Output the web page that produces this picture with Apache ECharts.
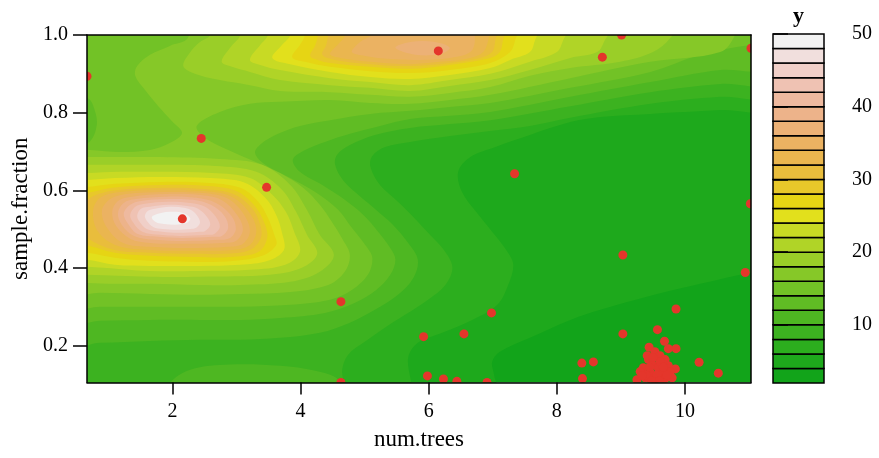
<!DOCTYPE html>
<html><head><meta charset="utf-8">
<script src="https://cdn.jsdelivr.net/npm/echarts@6/dist/echarts.min.js"></script>
<style>html,body{margin:0;padding:0;background:#fff}#c{width:879px;height:458px}</style>
</head><body><div id="c"></div>
<script>
// ---- data: filled contour regions {z >= level}, vertices in (num.trees, sample.fraction) ----
const contourLevels = [2,4,6,8,10,10,12,14,16,
  18,20,22,24,26,28,30,32,34,36,
  18,20,22,24,26,28,30,32,34,36,38,40,42,44,46,48];
const contourRings = [
 [[0.25,1.064],[11.49,1.064],[11.49,0.062],[0.25,0.062]],
 [[0.25,1.064],[11.49,1.064],[11.49,0.393],[11.02,0.388],[10.24,0.360],[9.46,0.329],[8.68,0.293],[8.21,0.267],[7.58,0.221],[7.11,0.185],[6.99,0.159],[7.02,0.126],[7.07,0.062],[0.25,0.062]],
 [[0.25,1.064],[11.49,1.064],[11.49,0.815],[10.55,0.807],[9.46,0.797],[8.68,0.789],[8.21,0.776],[7.58,0.743],[7.04,0.712],[6.65,0.686],[6.46,0.648],[6.52,0.596],[6.74,0.545],[6.99,0.494],[7.21,0.447],[7.32,0.409],[7.24,0.357],[7.07,0.306],[6.68,0.267],[6.21,0.234],[5.83,0.208],[5.68,0.170],[5.66,0.062],[0.25,0.062]],
 [[0.25,1.064],[11.49,1.064],[11.49,0.846],[10.55,0.841],[9.46,0.823],[8.21,0.787],[7.58,0.766],[6.96,0.753],[6.33,0.740],[5.71,0.725],[5.32,0.712],[5.12,0.689],[5.09,0.661],[5.24,0.614],[5.52,0.571],[5.76,0.532],[6.02,0.486],[6.26,0.442],[6.37,0.401],[6.26,0.357],[5.99,0.319],[5.63,0.280],[5.27,0.242],[4.98,0.208],[4.74,0.177],[4.65,0.139],[4.65,0.062],[0.25,0.062]],
 [[0.25,1.064],[11.49,1.064],[11.49,0.879],[10.55,0.874],[9.46,0.853],[8.21,0.817],[6.96,0.781],[6.33,0.771],[5.71,0.761],[5.16,0.743],[4.77,0.717],[4.57,0.692],[4.54,0.666],[4.66,0.627],[4.90,0.589],[5.18,0.550],[5.44,0.512],[5.68,0.465],[5.83,0.422],[5.76,0.375],[5.52,0.332],[5.16,0.293],[4.77,0.260],[4.30,0.234],[3.68,0.221],[3.06,0.216],[2.43,0.216],[1.65,0.213],[0.87,0.208],[0.25,0.203]],
 [[1.88,0.062],[1.96,0.105],[2.28,0.139],[2.90,0.152],[3.68,0.149],[4.23,0.136],[4.59,0.113],[4.69,0.062]],
 [[0.25,1.064],[11.49,1.064],[11.49,0.915],[10.55,0.910],[9.46,0.879],[8.21,0.841],[6.96,0.802],[6.33,0.792],[5.71,0.784],[5.24,0.766],[4.77,0.746],[4.38,0.725],[4.07,0.704],[3.88,0.679],[3.99,0.648],[4.34,0.614],[4.69,0.576],[4.98,0.537],[5.21,0.494],[5.40,0.452],[5.48,0.422],[5.40,0.383],[5.18,0.344],[4.85,0.311],[4.38,0.285],[3.68,0.272],[3.06,0.267],[2.43,0.267],[1.65,0.267],[0.87,0.265],[0.25,0.262]],
 [[0.25,1.064],[11.49,1.064],[11.49,0.974],[11.03,0.974],[10.24,0.949],[9.46,0.905],[8.21,0.864],[6.96,0.825],[6.33,0.815],[5.71,0.805],[5.09,0.797],[4.46,0.781],[3.99,0.766],[3.65,0.746],[3.40,0.722],[3.29,0.697],[3.45,0.666],[3.84,0.632],[4.23,0.596],[4.59,0.550],[4.80,0.504],[5.01,0.460],[5.12,0.427],[5.05,0.383],[4.80,0.344],[4.46,0.319],[3.84,0.306],[3.06,0.301],[2.43,0.301],[1.65,0.301],[0.87,0.301],[0.25,0.301],[0.25,0.717],[0.68,0.722],[0.82,0.769],[0.76,0.820],[0.67,0.838],[0.25,0.841]],
 [[2.32,1.064],[10.86,1.064],[10.78,1.0],[10.55,0.956],[9.46,0.931],[8.21,0.889],[6.96,0.846],[6.33,0.833],[5.71,0.823],[5.09,0.825],[4.46,0.833],[3.68,0.828],[3.21,0.823],[2.74,0.802],[2.38,0.766],[2.51,0.735],[2.87,0.704],[3.29,0.674],[3.68,0.645],[4.04,0.607],[4.30,0.563],[4.49,0.519],[4.66,0.473],[4.77,0.434],[4.69,0.391],[4.43,0.357],[3.84,0.339],[3.06,0.334],[2.43,0.332],[1.65,0.334],[0.87,0.337],[0.25,0.337],[0.25,0.710],[0.71,0.704],[1.18,0.699],[1.65,0.704],[1.96,0.722],[2.15,0.748],[1.99,0.779],[1.78,0.817],[1.57,0.859],[1.42,0.895],[1.45,0.920],[1.65,0.949],[1.96,0.972],[2.24,0.992]],
 // upper peak
 [[2.17,0.920],[2.28,0.956],[2.43,0.982],[2.59,1.0],[2.62,1.064],[10.00,1.064],[9.77,0.992],[9.50,0.956],[8.99,0.931],[8.21,0.915],[7.58,0.895],[6.96,0.866],[6.33,0.851],[5.71,0.841],[5.09,0.846],[4.46,0.853],[3.68,0.856],[3.21,0.871],[2.74,0.884],[2.35,0.900]],
 [[2.77,0.931],[2.90,0.967],[3.06,1.0],[3.09,1.064],[8.99,1.064],[8.75,0.987],[8.63,0.956],[8.21,0.941],[7.58,0.910],[6.96,0.884],[6.33,0.869],[5.71,0.856],[5.09,0.864],[4.46,0.871],[3.68,0.884],[3.21,0.905],[2.93,0.918]],
 [[3.21,0.936],[3.37,0.974],[3.49,1.0],[3.52,1.064],[8.29,1.064],[8.10,0.987],[8.00,0.956],[7.58,0.931],[6.96,0.900],[6.33,0.884],[5.71,0.871],[5.09,0.879],[4.46,0.889],[3.68,0.910],[3.37,0.923]],
 [[3.56,0.941],[3.71,0.974],[3.84,1.0],[3.87,1.064],[7.82,1.064],[7.66,0.987],[7.58,0.956],[7.27,0.936],[6.96,0.915],[6.33,0.897],[5.71,0.887],[5.09,0.892],[4.46,0.905],[3.84,0.925]],
 [[3.87,0.943],[3.99,0.974],[4.07,1.0],[4.10,1.064],[7.46,1.064],[7.35,0.987],[7.27,0.956],[6.96,0.928],[6.33,0.910],[5.71,0.902],[5.09,0.907],[4.46,0.918],[4.07,0.931]],
 [[4.15,0.946],[4.23,0.974],[4.27,1.0],[4.30,1.064],[7.27,1.064],[7.16,0.987],[7.11,0.956],[6.96,0.941],[6.33,0.923],[5.71,0.913],[5.09,0.918],[4.46,0.928],[4.27,0.936]],
 [[4.34,0.949],[4.40,0.974],[4.43,1.0],[4.46,1.064],[7.11,1.064],[7.04,0.987],[6.99,0.956],[6.80,0.941],[6.33,0.928],[5.71,0.920],[5.09,0.925],[4.54,0.936]],
 [[4.46,0.951],[4.59,0.977],[4.69,0.997],[4.77,1.064],[6.99,1.064],[6.93,0.987],[6.85,0.956],[6.65,0.941],[6.18,0.931],[5.71,0.925],[5.09,0.931],[4.62,0.941]],
 [[4.80,0.956],[4.93,0.982],[5.12,1.003],[5.16,1.064],[6.65,1.064],[6.72,0.987],[6.65,0.956],[6.33,0.941],[5.87,0.936],[5.40,0.938],[5.01,0.946]],
 [[5.48,0.967],[5.71,0.982],[6.10,0.982],[6.33,0.967],[6.18,0.951],[5.79,0.949]],
 // main peak
 [[1.81,0.686],[2.74,0.681],[3.40,0.666],[3.84,0.614],[4.10,0.550],[4.30,0.486],[4.52,0.434],[4.30,0.391],[3.84,0.365],[3.06,0.357],[2.43,0.357],[1.65,0.360],[1.10,0.360],[0.67,0.362],[0.25,0.362],[0.25,0.686],[0.67,0.686],[1.18,0.686]],
 [[1.81,0.666],[2.67,0.663],[3.31,0.648],[3.71,0.602],[3.93,0.545],[4.10,0.486],[4.26,0.437],[4.02,0.401],[3.52,0.383],[2.43,0.378],[1.65,0.378],[0.67,0.383],[0.25,0.383],[0.25,0.666],[0.67,0.666],[1.18,0.666]],
 [[1.81,0.648],[2.62,0.645],[3.21,0.632],[3.56,0.589],[3.77,0.545],[3.90,0.494],[3.99,0.442],[3.76,0.409],[3.21,0.396],[2.43,0.393],[1.65,0.393],[0.67,0.404],[0.25,0.404],[0.25,0.645],[0.67,0.645],[1.18,0.648]],
 [[1.81,0.635],[2.59,0.632],[3.13,0.620],[3.45,0.581],[3.62,0.537],[3.71,0.491],[3.74,0.447],[3.49,0.419],[3.06,0.409],[2.43,0.406],[1.65,0.406],[1.10,0.409],[0.67,0.422],[0.25,0.422],[0.25,0.627],[0.67,0.627],[1.10,0.632]],
 [[1.81,0.622],[2.51,0.620],[3.06,0.607],[3.34,0.571],[3.49,0.530],[3.59,0.486],[3.62,0.460],[3.40,0.432],[2.98,0.419],[2.43,0.416],[1.65,0.419],[1.10,0.427],[0.67,0.440],[0.25,0.440],[0.25,0.609],[0.67,0.609],[1.10,0.617]],
 [[1.84,0.614],[2.51,0.612],[2.99,0.599],[3.27,0.563],[3.43,0.519],[3.48,0.478],[3.34,0.442],[2.90,0.429],[2.34,0.429],[1.65,0.432],[1.10,0.440],[0.67,0.458],[0.25,0.458],[0.25,0.594],[0.67,0.594],[1.06,0.607]],
 [[1.84,0.607],[2.48,0.604],[2.95,0.591],[3.24,0.555],[3.37,0.512],[3.38,0.478],[3.21,0.447],[2.82,0.437],[2.31,0.437],[1.65,0.440],[1.10,0.447],[0.67,0.478],[0.40,0.524],[0.67,0.576],[1.06,0.599]],
 [[1.87,0.602],[2.43,0.599],[2.90,0.586],[3.18,0.548],[3.31,0.499],[3.21,0.460],[2.93,0.447],[2.28,0.445],[1.65,0.447],[1.14,0.458],[0.84,0.494],[0.76,0.545],[0.87,0.581],[1.18,0.596]],
 [[1.87,0.596],[2.43,0.594],[2.84,0.581],[3.10,0.542],[3.21,0.496],[3.10,0.463],[2.87,0.455],[2.24,0.452],[1.65,0.455],[1.23,0.465],[0.98,0.504],[0.90,0.548],[1.03,0.578],[1.28,0.591]],
 [[1.90,0.591],[2.40,0.589],[2.76,0.576],[3.01,0.537],[3.10,0.499],[2.99,0.470],[2.77,0.465],[2.21,0.463],[1.65,0.465],[1.34,0.476],[1.12,0.509],[1.06,0.545],[1.15,0.573],[1.37,0.584]],
 [[1.90,0.584],[2.37,0.581],[2.68,0.568],[2.92,0.535],[2.99,0.501],[2.90,0.478],[2.71,0.473],[2.18,0.470],[1.73,0.473],[1.40,0.483],[1.21,0.512],[1.15,0.542],[1.24,0.568],[1.43,0.578]],
 [[1.93,0.578],[2.32,0.576],[2.60,0.563],[2.81,0.535],[2.87,0.504],[2.77,0.483],[2.62,0.481],[2.15,0.478],[1.78,0.481],[1.46,0.488],[1.31,0.514],[1.24,0.540],[1.34,0.563],[1.51,0.573]],
 [[1.93,0.571],[2.28,0.568],[2.51,0.558],[2.68,0.532],[2.74,0.506],[2.65,0.488],[2.53,0.486],[2.12,0.483],[1.81,0.486],[1.53,0.494],[1.39,0.517],[1.34,0.537],[1.42,0.558],[1.57,0.566]],
 [[1.93,0.563],[2.23,0.560],[2.40,0.553],[2.54,0.532],[2.59,0.512],[2.51,0.496],[2.42,0.494],[2.09,0.491],[1.84,0.494],[1.60,0.501],[1.49,0.519],[1.45,0.535],[1.51,0.553],[1.65,0.558]],
 [[1.96,0.558],[2.20,0.555],[2.31,0.548],[2.40,0.532],[2.43,0.517],[2.37,0.504],[2.28,0.501],[2.06,0.499],[1.85,0.501],[1.70,0.506],[1.60,0.522],[1.57,0.535],[1.62,0.548],[1.73,0.553]],
 [[1.96,0.545],[2.15,0.543],[2.23,0.537],[2.28,0.527],[2.23,0.517],[2.15,0.514],[2.03,0.512],[1.87,0.514],[1.76,0.517],[1.70,0.524],[1.68,0.532],[1.74,0.538],[1.84,0.543]]
];
const pointsX = [0.667,2.45,3.47,2.155,6.15,8.71,9.01,11.03,7.34,11.02,4.63,5.92,5.98,4.63,9.03,10.94,9.86,6.98,6.55,9.03,9.57,9.68,9.44,9.86,9.74,8.39,8.57,10.22,10.52,9.85,6.23,6.44,6.91,8.40,
 9.53,9.61,9.43,9.69,9.49,9.35,9.58,9.74,9.30,9.46,9.64,9.77,9.38,9.53,9.69,9.25,9.80,9.61,9.41,9.50,9.56,9.72,9.40,9.33,9.66,9.45,9.60,9.48];
const pointsY = [0.894,0.734,0.608,0.527,0.959,0.943,1.0,0.966,0.643,0.566,0.314,0.224,0.123,0.106,0.434,0.389,0.295,0.285,0.231,0.231,0.242,0.212,0.197,0.193,0.193,0.156,0.159,0.158,0.130,0.141,0.115,0.109,0.106,0.116,
 0.185,0.175,0.165,0.165,0.152,0.144,0.144,0.149,0.134,0.131,0.129,0.134,0.118,0.113,0.116,0.113,0.118,0.160,0.175,0.170,0.125,0.125,0.125,0.124,0.145,0.145,0.110,0.110];
const levels = [2,4,6,8,10,12,14,16,18,20,22,24,26,28,30,32,34,36,38,40,42,44,46,48,50];
const xTicks = [2,4,6,8,10];
const yTicks = [0.2,0.4,0.6,0.8,1.0];
const barTicks = [10,20,30,40,50];

// ---- palette (terrain-like, as seen in the colour key, low to high) ----
const colors = ['#12a41a','#1ea91c','#2cae1e','#3cb220','#4eb722','#60bc24','#72c226','#86c828',
  '#9ace28','#b0d427','#c8da24','#e2e01c','#e6d514','#e8c82a','#e9bd3c','#eab64f',
  '#ebb262','#ecb176','#edb38a','#eeb99f','#efc2b3','#f0cfc8','#f1dfdd','#f2f2f2'];
const nb = levels.length-1;
function levelColor(L){ return colors[Math.max(0,Math.min(nb-1,levels.indexOf(L)))]; }

const ringData = contourRings.map((r,i)=>[r[0][0],r[0][1],i]);
const ptData = pointsX.map((x,i)=>[x,pointsY[i]]);
const barData = [];
for(let i=0;i<nb;i++) barData.push([levels[i],levels[i+1],i]);

const serif='Liberation Serif';
const chart=echarts.init(document.getElementById('c'),null,{renderer:'canvas'});
chart.setOption({
  animation:false,
  backgroundColor:'#fff',
  textStyle:{fontFamily:serif},
  grid:[
    {left:87,top:35,width:664,height:347.5,show:false},
    {left:773,top:33,width:51,height:350,show:false}
  ],
  xAxis:[
    {gridIndex:0,type:'value',min:0.667,max:11.03,z:10,
     name:'num.trees',nameLocation:'middle',nameGap:46,
     nameTextStyle:{fontFamily:serif,fontSize:23,color:'#000'},
     axisLine:{show:true,onZero:false,lineStyle:{color:'#000',width:1.5}},
     axisTick:{show:true,length:12,customValues:xTicks,lineStyle:{color:'#000',width:1.5}},
     axisLabel:{customValues:xTicks,margin:19,fontFamily:serif,fontSize:20,color:'#000'},
     splitLine:{show:false}},
    {gridIndex:0,type:'value',position:'top',min:0.667,max:11.03,z:10,
     axisLine:{show:true,onZero:false,lineStyle:{color:'#000',width:1.5}},
     axisTick:{show:false},axisLabel:{show:false},splitLine:{show:false}},
    {gridIndex:1,type:'value',position:'top',min:0,max:1,
     name:'y',nameLocation:'middle',nameGap:7,
     nameTextStyle:{fontFamily:serif,fontSize:22,fontWeight:'bold',color:'#000'},
     axisLine:{show:false},axisTick:{show:false},axisLabel:{show:false},splitLine:{show:false}}
  ],
  yAxis:[
    {gridIndex:0,type:'value',min:0.106,max:1.0,z:10,
     name:'sample.fraction',nameLocation:'middle',nameGap:54,
     nameTextStyle:{fontFamily:serif,fontSize:23,color:'#000'},
     axisLine:{show:true,onZero:false,lineStyle:{color:'#000',width:1.5}},
     axisTick:{show:true,length:14,customValues:yTicks,lineStyle:{color:'#000',width:1.5}},
     axisLabel:{customValues:yTicks,margin:19,fontFamily:serif,fontSize:20,color:'#000',
       formatter:v=>v.toFixed(1)},
     splitLine:{show:false}},
    {gridIndex:0,type:'value',position:'right',min:0.106,max:1.0,z:10,
     axisLine:{show:true,onZero:false,lineStyle:{color:'#000',width:1.5}},
     axisTick:{show:false},axisLabel:{show:false},splitLine:{show:false}},
    {gridIndex:1,type:'value',position:'right',min:2,max:50,z:10,
     axisLine:{show:false},
     axisTick:{show:true,length:15,customValues:barTicks,lineStyle:{color:'#000',width:1.5}},
     axisLabel:{customValues:barTicks,margin:28,fontFamily:serif,fontSize:20,color:'#000'},
     splitLine:{show:false}}
  ],
  series:[
    {type:'custom',xAxisIndex:0,yAxisIndex:0,clip:true,data:ringData,z:1,
     renderItem:(params,api)=>{
       const idx=api.value(2);
       const pts=contourRings[idx].map(p=>api.coord(p));
       return {type:'polygon',shape:{points:pts,smooth:0.35},
               style:{fill:levelColor(contourLevels[idx])}};
     }},
    {type:'custom',xAxisIndex:0,yAxisIndex:0,clip:true,data:ptData,z:3,
     renderItem:(params,api)=>{
       const p=api.coord([api.value(0),api.value(1)]);
       return {type:'circle',shape:{cx:p[0],cy:p[1],r:4.5},style:{fill:'#e4362b'}};
     }},
    {type:'custom',xAxisIndex:2,yAxisIndex:2,data:barData,z:3,
     renderItem:(params,api)=>{
       const lo=api.value(0),hi=api.value(1),k=api.value(2);
       const p0=api.coord([0,hi]), p1=api.coord([1,lo]);
       return {type:'rect',shape:{x:p0[0],y:p0[1],width:p1[0]-p0[0],height:p1[1]-p0[1]},
               style:{fill:colors[k],stroke:'#000',lineWidth:1.5}};
     }}
  ]
});
</script></body></html>
